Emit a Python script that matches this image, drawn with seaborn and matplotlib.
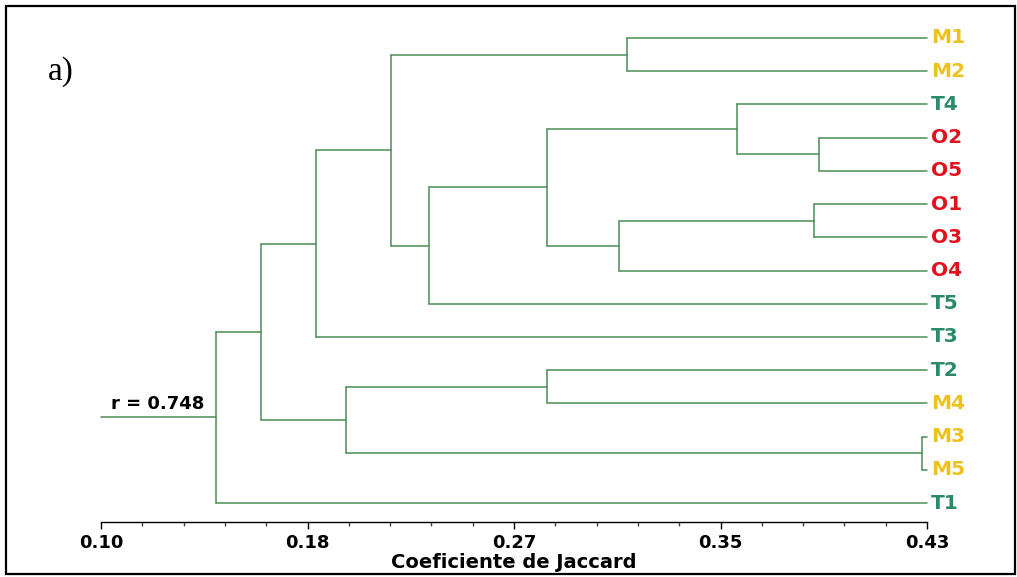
import numpy as np
import pandas as pd
import matplotlib
matplotlib.use("Agg")
import matplotlib.pyplot as plt
from matplotlib.patches import Rectangle
import seaborn as sns

# ---------------- data ----------------
leaves = ["M1", "M2", "T4", "O2", "O5", "O1", "O3", "O4", "T5", "T3", "T2", "M4", "M3", "M5", "T1"]
# merges: node n{i} joins merge_a[i] and merge_b[i] at similarity heights[i]
merge_a = ["M1", "O2", "T4", "O1", "n3", "n2", "n5", "n0", "n7", "T2", "M3", "n9", "n8", "n12"]
merge_b = ["M2", "O5", "n1", "O3", "O4", "n4", "T5", "n6", "T3", "M4", "M5", "n10", "n11", "T1"]
heights = [0.310, 0.387, 0.354, 0.385, 0.307, 0.278, 0.231, 0.216, 0.186, 0.278, 0.428, 0.198, 0.164, 0.146]
leaf_level = 0.43
root_base = 0.10
tick_values = [0.10, 0.1825, 0.265, 0.3475, 0.43]
tick_labels = ["0.10", "0.18", "0.27", "0.35", "0.43"]
x_title = "Coeficiente de Jaccard"
r_text = "r = 0.748"
panel_tag = "a)"
group_colors = {"M": "#eec21c", "T": "#2b8a69", "O": "#e0121c"}
line_color = "#4b8d55"

# ---------------- build segments ----------------
pos = {name: (leaf_level, i) for i, name in enumerate(leaves)}
segs = []
for i, (a, b, h) in enumerate(zip(merge_a, merge_b, heights)):
    xa, ya = pos[a]
    xb, yb = pos[b]
    segs.append([(xa, ya), (h, ya)])
    segs.append([(xb, yb), (h, yb)])
    segs.append([(h, ya), (h, yb)])
    pos[f"n{i}"] = (h, (ya + yb) / 2)
root_x, root_y = pos[f"n{len(heights) - 1}"]
segs.append([(root_x, root_y), (root_base, root_y)])

rows = []
for k, s in enumerate(segs):
    for (x, y) in s:
        rows.append({"seg": k, "x": x, "y": y})
df = pd.DataFrame(rows)

# ---------------- figure ----------------
sns.set_style("white")
plt.rcParams["font.family"] = ["DejaVu Sans"]
plt.rcParams["text.color"] = "black"
plt.rcParams["xtick.color"] = "black"
plt.rcParams["axes.labelcolor"] = "black"

W, H = 1017, 577
fig = plt.figure(figsize=(W / 100, H / 100), dpi=100)
fig.patch.set_facecolor("white")
ax = fig.add_axes([101 / W, 1 - 522 / H, 826 / W, 500 / H])

sns.lineplot(data=df, x="x", y="y", units="seg", estimator=None, sort=False,
             color=line_color, linewidth=1.1, ax=ax, legend=False, clip_on=False)

ax.set_xlim(root_base, leaf_level)
ax.set_ylim(14.57, -0.48)

for sp in ["left", "top", "right"]:
    ax.spines[sp].set_visible(False)
ax.spines["bottom"].set_color("black")
ax.spines["bottom"].set_linewidth(1.0)
ax.set_yticks([])
ax.set_ylabel("")
ax.set_xticks(tick_values)
ax.set_xticklabels(tick_labels, fontsize=13, fontweight="heavy", color="black")
minor = np.linspace(tick_values[0], tick_values[-1], 21)
ax.set_xticks(minor, minor=True)
ax.tick_params(axis="x", which="major", direction="out", length=5, width=1,
               color="black", pad=3.5, bottom=True, labelcolor="black")
ax.tick_params(axis="x", which="minor", direction="out", length=3, width=1,
               color="#444444", bottom=True)
ax.set_xlabel(x_title, fontsize=14, fontweight="heavy", labelpad=0.5, color="black")

# leaf labels
for i, name in enumerate(leaves):
    ax.annotate(name, xy=(leaf_level, i), xytext=(3, 0), textcoords="offset points",
                ha="left", va="center", fontsize=14.5, fontweight="heavy",
                color=group_colors[name[0]], annotation_clip=False)

# r label above root stem
ax.annotate(r_text, xy=(root_base, root_y), xytext=(7, 10), textcoords="offset points",
            ha="left", va="center", fontsize=13, fontweight="heavy", color="black")

# panel tag
fig.text(48 / W, 1 - 72 / H, panel_tag, fontsize=24, family="Liberation Serif",
         ha="left", va="center", color="black")

# frame
fig.patches.append(Rectangle((6 / W, 3 / H), 1009 / W, 568 / H, transform=fig.transFigure,
                             fill=False, edgecolor="black", linewidth=1.6))

fig.savefig("out.png", dpi=100, facecolor="white")
